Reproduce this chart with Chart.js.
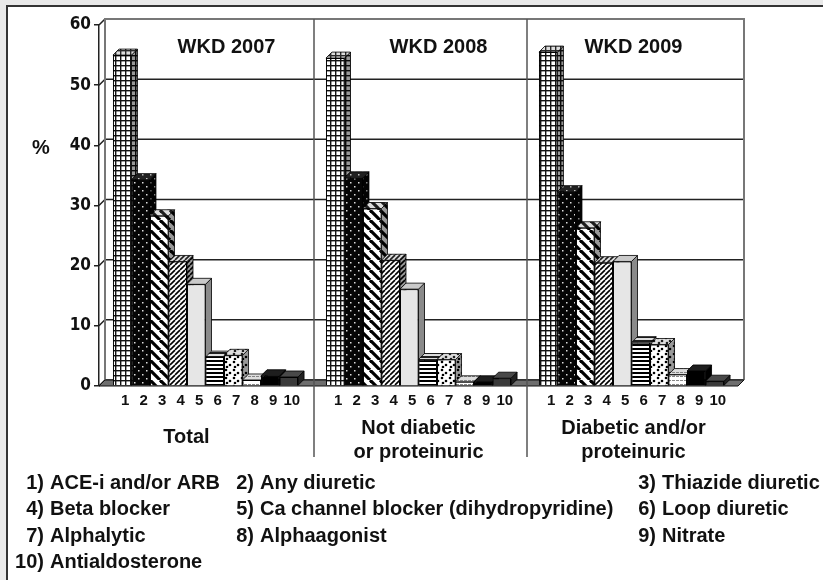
<!DOCTYPE html>
<html>
<head>
<meta charset="utf-8">
<script src="https://cdn.jsdelivr.net/npm/chart.js@4"></script>
<style>
  html, body { margin: 0; padding: 0; background: #e9e9e9; }
  #wrap { width: 823px; height: 580px; }
</style>
</head>
<body>
<div id="wrap"><canvas id="wkd-chart" width="823" height="580"></canvas></div>
<script>
// survey years and patient groups
const years = ['WKD 2007', 'WKD 2008', 'WKD 2009'];
const groupNames = [['Total'], ['Not diabetic', 'or proteinuric'], ['Diabetic and/or', 'proteinuric']];

// drug classes (legend under the chart)
const drugs = ['ACE-i and/or ARB', 'Any diuretic', 'Thiazide diuretic', 'Beta blocker',
  'Ca channel blocker (dihydropyridine)', 'Loop diuretic', 'Alphalytic', 'Alphaagonist',
  'Nitrate', 'Antialdosterone'];

// % of patients, one value per year
const aceArb = [55.0, 54.5, 55.5];
const anyDiuretic = [34.3, 34.6, 32.3];
const thiazide = [28.3, 29.5, 26.3];
const betaBlocker = [20.7, 20.9, 20.5];
const caBlocker = [16.9, 16.1, 20.7];
const loopDiuretic = [4.8, 4.4, 7.2];
const alphalytic = [5.1, 4.4, 6.9];
const alphaagonist = [1.0, 0.7, 1.9];
const nitrate = [1.7, 0.7, 2.5];
const antialdosterone = [1.5, 1.3, 0.8];

const yTicks = [0, 10, 20, 30, 40, 50, 60];

const series = [aceArb, anyDiuretic, thiazide, betaBlocker, caBlocker,
  loopDiuretic, alphalytic, alphaagonist, nitrate, antialdosterone];

const FONT = "'Liberation Sans', Arial, sans-serif";
const DX = 6, DY = 6; // depth of the fake 3d

// fill patterns, like the old excel b/w hatches
function tile(size, paint) {
  const c = document.createElement('canvas');
  c.width = size; c.height = size;
  const g = c.getContext('2d');
  paint(g, size);
  return g.createPattern(c, 'repeat');
}
const ctx = document.getElementById('wkd-chart').getContext('2d');
const patterns = [
  tile(5, (g, s) => { g.fillStyle = '#fff'; g.fillRect(0, 0, s, s); g.fillStyle = '#111'; g.fillRect(0, 0, s, 1.4); g.fillRect(0, 0, 1.4, s); }),
  tile(8, (g, s) => { g.fillStyle = '#050505'; g.fillRect(0, 0, s, s); g.fillStyle = '#ddd'; g.fillRect(2, 2, 1.5, 1.5); g.fillRect(6, 6, 1.5, 1.5); }),
  tile(10, (g, s) => {
    g.fillStyle = '#fff'; g.fillRect(0, 0, s, s);
    g.strokeStyle = '#000'; g.lineWidth = 3.2;
    [-s, 0, s].forEach(o => { g.beginPath(); g.moveTo(o, 0); g.lineTo(o + s, s); g.stroke(); });
  }),
  tile(5, (g, s) => {
    g.fillStyle = '#fff'; g.fillRect(0, 0, s, s);
    g.strokeStyle = '#000'; g.lineWidth = 1.6;
    [-s, 0, s].forEach(o => { g.beginPath(); g.moveTo(o, s); g.lineTo(o + s, 0); g.stroke(); });
  }),
  '#e6e6e6',
  tile(4, (g, s) => { g.fillStyle = '#fff'; g.fillRect(0, 0, s, s); g.fillStyle = '#000'; g.fillRect(0, 0, s, 2); }),
  tile(8, (g, s) => {
    g.fillStyle = '#fff'; g.fillRect(0, 0, s, s); g.fillStyle = '#000';
    [[2, 2], [6, 5], [3, 7]].forEach(p => { g.beginPath(); g.arc(p[0], p[1], 1.3, 0, 7); g.fill(); });
  }),
  tile(4, (g, s) => { g.fillStyle = '#fff'; g.fillRect(0, 0, s, s); g.fillStyle = '#888'; g.fillRect(0, 0, 3, 1); }),
  '#000',
  '#3a3a3a'
];

// back wall, side wall, floor and group dividers
const wallPlugin = {
  id: 'wall',
  beforeDraw(chart) {
    const c = chart.ctx;
    c.save();
    c.fillStyle = '#e9e9e9';
    c.fillRect(0, 0, chart.width, chart.height);
    c.fillStyle = '#fff';
    c.fillRect(7, 6, chart.width, chart.height);
    c.strokeStyle = '#333'; c.lineWidth = 2;
    c.beginPath(); c.moveTo(7, chart.height); c.lineTo(7, 6); c.lineTo(chart.width, 6); c.stroke();
    c.restore();
  },
  beforeDatasetsDraw(chart) {
    const c = chart.ctx, a = chart.chartArea, y = chart.scales.y, x = chart.scales.x;
    c.save();
    c.strokeStyle = '#222'; c.lineWidth = 1.5;
    yTicks.forEach(v => {
      const py = y.getPixelForValue(v);
      c.beginPath();
      c.moveTo(a.left, py); c.lineTo(a.left + DX, py - DY); c.lineTo(a.right + DX, py - DY);
      c.stroke();
    });
    c.strokeStyle = '#777'; c.lineWidth = 2;
    c.beginPath();
    c.moveTo(a.left + DX, a.bottom - DY); c.lineTo(a.left + DX, a.top - DY);
    c.lineTo(a.right + DX, a.top - DY); c.lineTo(a.right + DX, a.bottom - DY);
    c.stroke();
    // floor
    c.fillStyle = '#6e6e6e'; c.strokeStyle = '#111'; c.lineWidth = 1;
    c.beginPath();
    c.moveTo(a.left, a.bottom); c.lineTo(a.right, a.bottom);
    c.lineTo(a.right + DX, a.bottom - DY); c.lineTo(a.left + DX, a.bottom - DY);
    c.closePath(); c.fill(); c.stroke();
    // dividers between groups
    c.strokeStyle = '#555'; c.lineWidth = 1.5;
    for (let i = 1; i < years.length; i++) {
      const px = (x.getPixelForValue(i - 1) + x.getPixelForValue(i)) / 2 + 2;
      c.beginPath(); c.moveTo(px, a.top - DY); c.lineTo(px, 457); c.stroke();
    }
    c.restore();
  },
  afterDatasetsDraw(chart) {
    const c = chart.ctx;
    const metas = chart.getSortedVisibleDatasetMetas().slice().sort((m, n) => m.index - n.index);
    c.save();
    for (let j = 0; j < years.length; j++) {
      metas.forEach(meta => {
        const el = meta.data[j];
        const p = el.getProps(['x', 'y', 'base', 'width'], true);
        const l = p.x - p.width / 2, r = p.x + p.width / 2;
        const fill = patterns[meta.index];
        // side
        c.beginPath();
        c.moveTo(r, p.y); c.lineTo(r + DX, p.y - DY); c.lineTo(r + DX, p.base - DY); c.lineTo(r, p.base); c.closePath();
        c.fillStyle = fill; c.fill();
        c.fillStyle = 'rgba(0,0,0,0.4)'; c.fill();
        c.strokeStyle = '#000'; c.lineWidth = 0.8; c.stroke();
        // top
        c.beginPath();
        c.moveTo(l, p.y); c.lineTo(l + DX, p.y - DY); c.lineTo(r + DX, p.y - DY); c.lineTo(r, p.y); c.closePath();
        c.fillStyle = fill; c.fill();
        c.fillStyle = 'rgba(120,120,120,0.25)'; c.fill();
        c.stroke();
        el.draw(c);
      });
    }
    c.restore();
  },
  afterDraw(chart) {
    const c = chart.ctx, x = chart.scales.x;
    c.save();
    c.fillStyle = '#111';
    c.textBaseline = 'middle';
    // bar numbers
    c.font = 'bold 15px ' + FONT;
    c.textAlign = 'center';
    chart.getSortedVisibleDatasetMetas().forEach(meta => {
      meta.data.forEach(el => c.fillText(String(meta.index + 1), el.x + 3, 401));
    });
    // year titles
    c.font = 'bold 20px ' + FONT;
    const titleShift = [21, 20, 2];
    years.forEach((t, i) => c.fillText(t, x.getPixelForValue(i) + titleShift[i], 47));
    // group names
    const nameShift = [-19, 0, 2];
    groupNames.forEach((lines, i) => {
      const y0 = lines.length === 1 ? 437 : 428;
      lines.forEach((s, k) => c.fillText(s, x.getPixelForValue(i) + nameShift[i], y0 + k * 24));
    });
    c.font = 'bold 20px ' + FONT;
    c.fillText('%', 41, 148);
    // legend text
    c.font = 'bold 20px ' + FONT;
    const parenX = [44, 254, 656];
    drugs.forEach((d, i) => {
      const row = Math.floor(i / 3), col = i % 3;
      const py = 483 + row * 26.5;
      c.textAlign = 'right';
      c.fillText((i + 1) + ')', parenX[col], py);
      c.textAlign = 'left';
      c.fillText(d, parenX[col] + 6, py);
    });
    c.restore();
  }
};

new Chart(ctx, {
  type: 'bar',
  data: {
    labels: years,
    datasets: series.map((vals, i) => ({
      label: drugs[i],
      data: vals,
      backgroundColor: patterns[i],
      borderColor: '#000',
      borderWidth: 1
    }))
  },
  options: {
    responsive: false,
    animation: false,
    events: [],
    categoryPercentage: 0.869,
    barPercentage: 1,
    layout: { padding: { left: 0, right: 85, top: 25, bottom: 194 } },
    plugins: { legend: { display: false }, tooltip: { enabled: false } },
    scales: {
      x: { display: false },
      y: {
        min: 0, max: 60,
        afterBuildTicks(s) { s.ticks = yTicks.map(v => ({ value: v })); },
        afterFit(s) { s.width = 99; },
        ticks: { color: '#111', padding: 3, font: { family: "'Liberation Sans Narrow', 'DejaVu Sans Condensed', sans-serif", size: 17, weight: 'bold' } },
        grid: { drawOnChartArea: false, tickLength: 5, color: '#222', lineWidth: 1.5 },
        border: { color: '#222', width: 1.5 }
      }
    }
  },
  plugins: [wallPlugin]
});
</script>
</body>
</html>
